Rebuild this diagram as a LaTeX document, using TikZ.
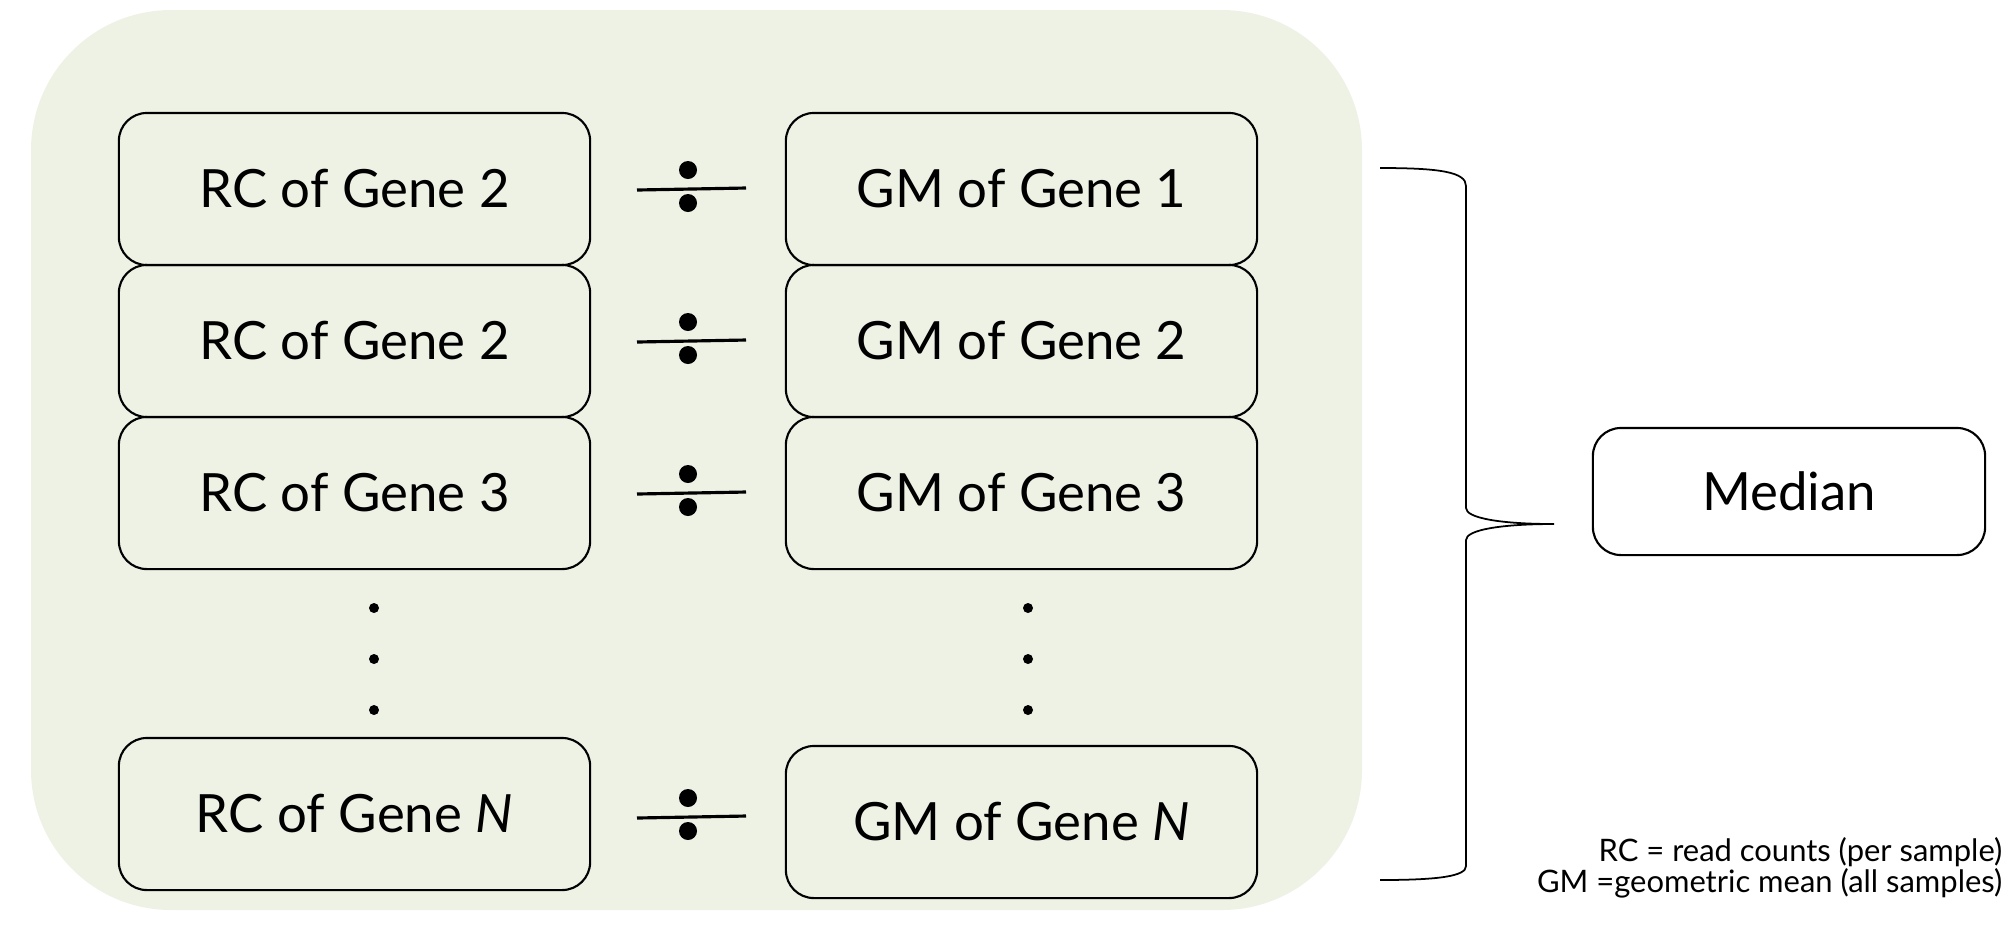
\documentclass[tikz,border=0pt]{standalone}
\usepackage{fontspec}
\setmainfont{Lato}
\usetikzlibrary{calc}
\definecolor{panelgreen}{RGB}{238,242,229}
\tikzset{
% Boxes for the ratios and the result
gene box/.style={draw,line width=0.6pt,rounded corners=0.28cm,minimum width=4.71cm,minimum height=1.52cm,inner sep=0pt,font=\fontsize{15}{18}\selectfont},
result box/.style={draw,line width=0.6pt,rounded corners=0.28cm,minimum width=3.92cm,minimum height=1.27cm,inner sep=0pt,font=\fontsize{15}{18}\selectfont},
legend text/.style={inner sep=0pt,anchor=base east,font=\fontsize{8.8}{11}\selectfont},
% Hand drawn division sign
divsign/.pic={
\draw[line width=0.9pt] (-51,1) -- (58,-1);
\fill (0,-19) circle (0.09cm);
\fill (0,14) circle (0.09cm);
}
}
\begin{document}
\begin{tikzpicture}[x=0.01cm,y=-0.01cm]
\useasboundingbox (0,0) rectangle (2012,926);
% Background panel
\fill[panelgreen,rounded corners=1.4cm] (31,10) rectangle (1362,910);
% Read counts and geometric means
\node(rc1)[gene box] at (354.5,189) {RC of Gene 2};
\node(rc2)[gene box] at (354.5,341) {RC of Gene 2};
\node(rc3)[gene box] at (354.5,493) {RC of Gene 3};
\node(rcN)[gene box] at (354.5,814) {RC of Gene \textit{N}};
\node(gm1)[gene box] at (1021.5,189) {GM of Gene 1};
\node(gm2)[gene box] at (1021.5,341) {GM of Gene 2};
\node(gm3)[gene box] at (1021.5,493) {GM of Gene 3};
\node(gmN)[gene box] at (1021.5,822) {GM of Gene \textit{N}};
% Division signs between the columns
\foreach \r in {1,2,3}
\pic at ($(rc\r.east)!0.5!(gm\r.west)$) {divsign};
\pic at (688,817) {divsign};
% Vertical dots
\foreach \y in {608,659,710}{
\fill (374,\y) circle (0.05cm);
\fill (1028,\y) circle (0.05cm);
}
% The brace
\coordinate (btop) at (1380,168);
\coordinate (bbot) at (1380,880);
\coordinate (btip) at (1554,524);
\draw[line width=0.5pt] (btop) .. controls (1440,168) and (1466,172) .. (1466,186)
-- (1466,508) .. controls (1466,518) and (1500,524) .. (btip)
.. controls (1500,524) and (1466,530) .. (1466,540)
-- (1466,866) .. controls (1466,876) and (1440,880) .. (bbot);
% Result
\node(median)[result box] at (1789,491.5) {Median};
% Legend
\node(legrc)[legend text] at (2003,861) {RC = read counts (per sample)};
\node(leggm)[legend text] at (2003,892) {GM =geometric mean (all samples)};
\end{tikzpicture}
\end{document}
